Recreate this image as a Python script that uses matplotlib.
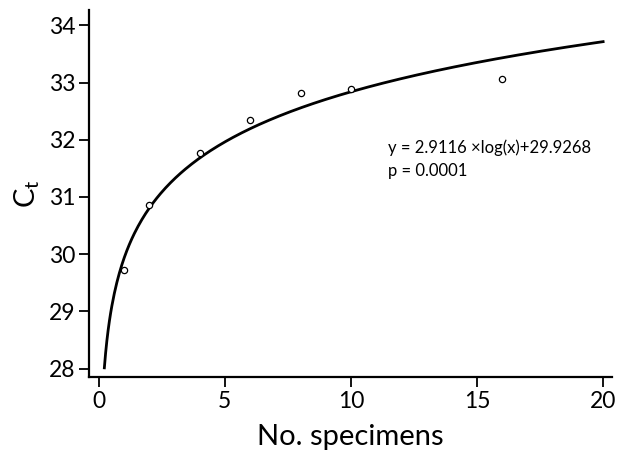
import numpy as np
import matplotlib as mpl
mpl.use('Agg')
import matplotlib.pyplot as plt

# observed data
specimens = [1, 2, 4, 6, 8, 10, 16]
ct_values = [29.73, 30.86, 31.77, 32.34, 32.82, 32.88, 33.07]

# fitted curve y = a*log10(x)+b
fit_a = 2.9116
fit_b = 29.9268
fit_xmin = 0.22
fit_xmax = 20

xticks = [0, 5, 10, 15, 20]
yticks = [28, 29, 30, 31, 32, 33, 34]

plt.rcParams['font.family'] = ['Lato', 'DejaVu Sans']
plt.rcParams['mathtext.fontset'] = 'custom'
plt.rcParams['mathtext.rm'] = 'Lato'
plt.rcParams['mathtext.it'] = 'Lato:italic'

fig = plt.figure(figsize=(6.2, 4.5), dpi=100)
ax = fig.add_axes([0.1435, 0.162, 0.8435, 0.816])

xs = np.linspace(fit_xmin, fit_xmax, 400)
ax.plot(xs, fit_a * np.log10(xs) + fit_b, color='black', lw=2)
ax.plot(specimens, ct_values, 'o', ms=4.5, mfc='white', mec='black', mew=0.9)

ax.set_xlim(-0.39, 20.35)
ax.set_ylim(27.85, 34.27)
ax.set_xticks(xticks)
ax.set_yticks(yticks)

for side in ['top', 'right']:
    ax.spines[side].set_visible(False)
for side in ['left', 'bottom']:
    ax.spines[side].set_linewidth(1.6)
ax.tick_params(direction='out', length=7, width=1.3, labelsize=16.5, pad=3)

ax.set_xlabel('No. specimens', fontsize=21, labelpad=9)
ax.set_ylabel(r'C$_\mathrm{t}$', fontsize=21, labelpad=5)

ax.text(11.47, 31.86, u'y = 2.9116 \u00d7log(x)+29.9268', fontsize=12, ha='left', va='center')
ax.text(11.47, 31.45, 'p = 0.0001', fontsize=12, ha='left', va='center')

plt.savefig('out.png')
